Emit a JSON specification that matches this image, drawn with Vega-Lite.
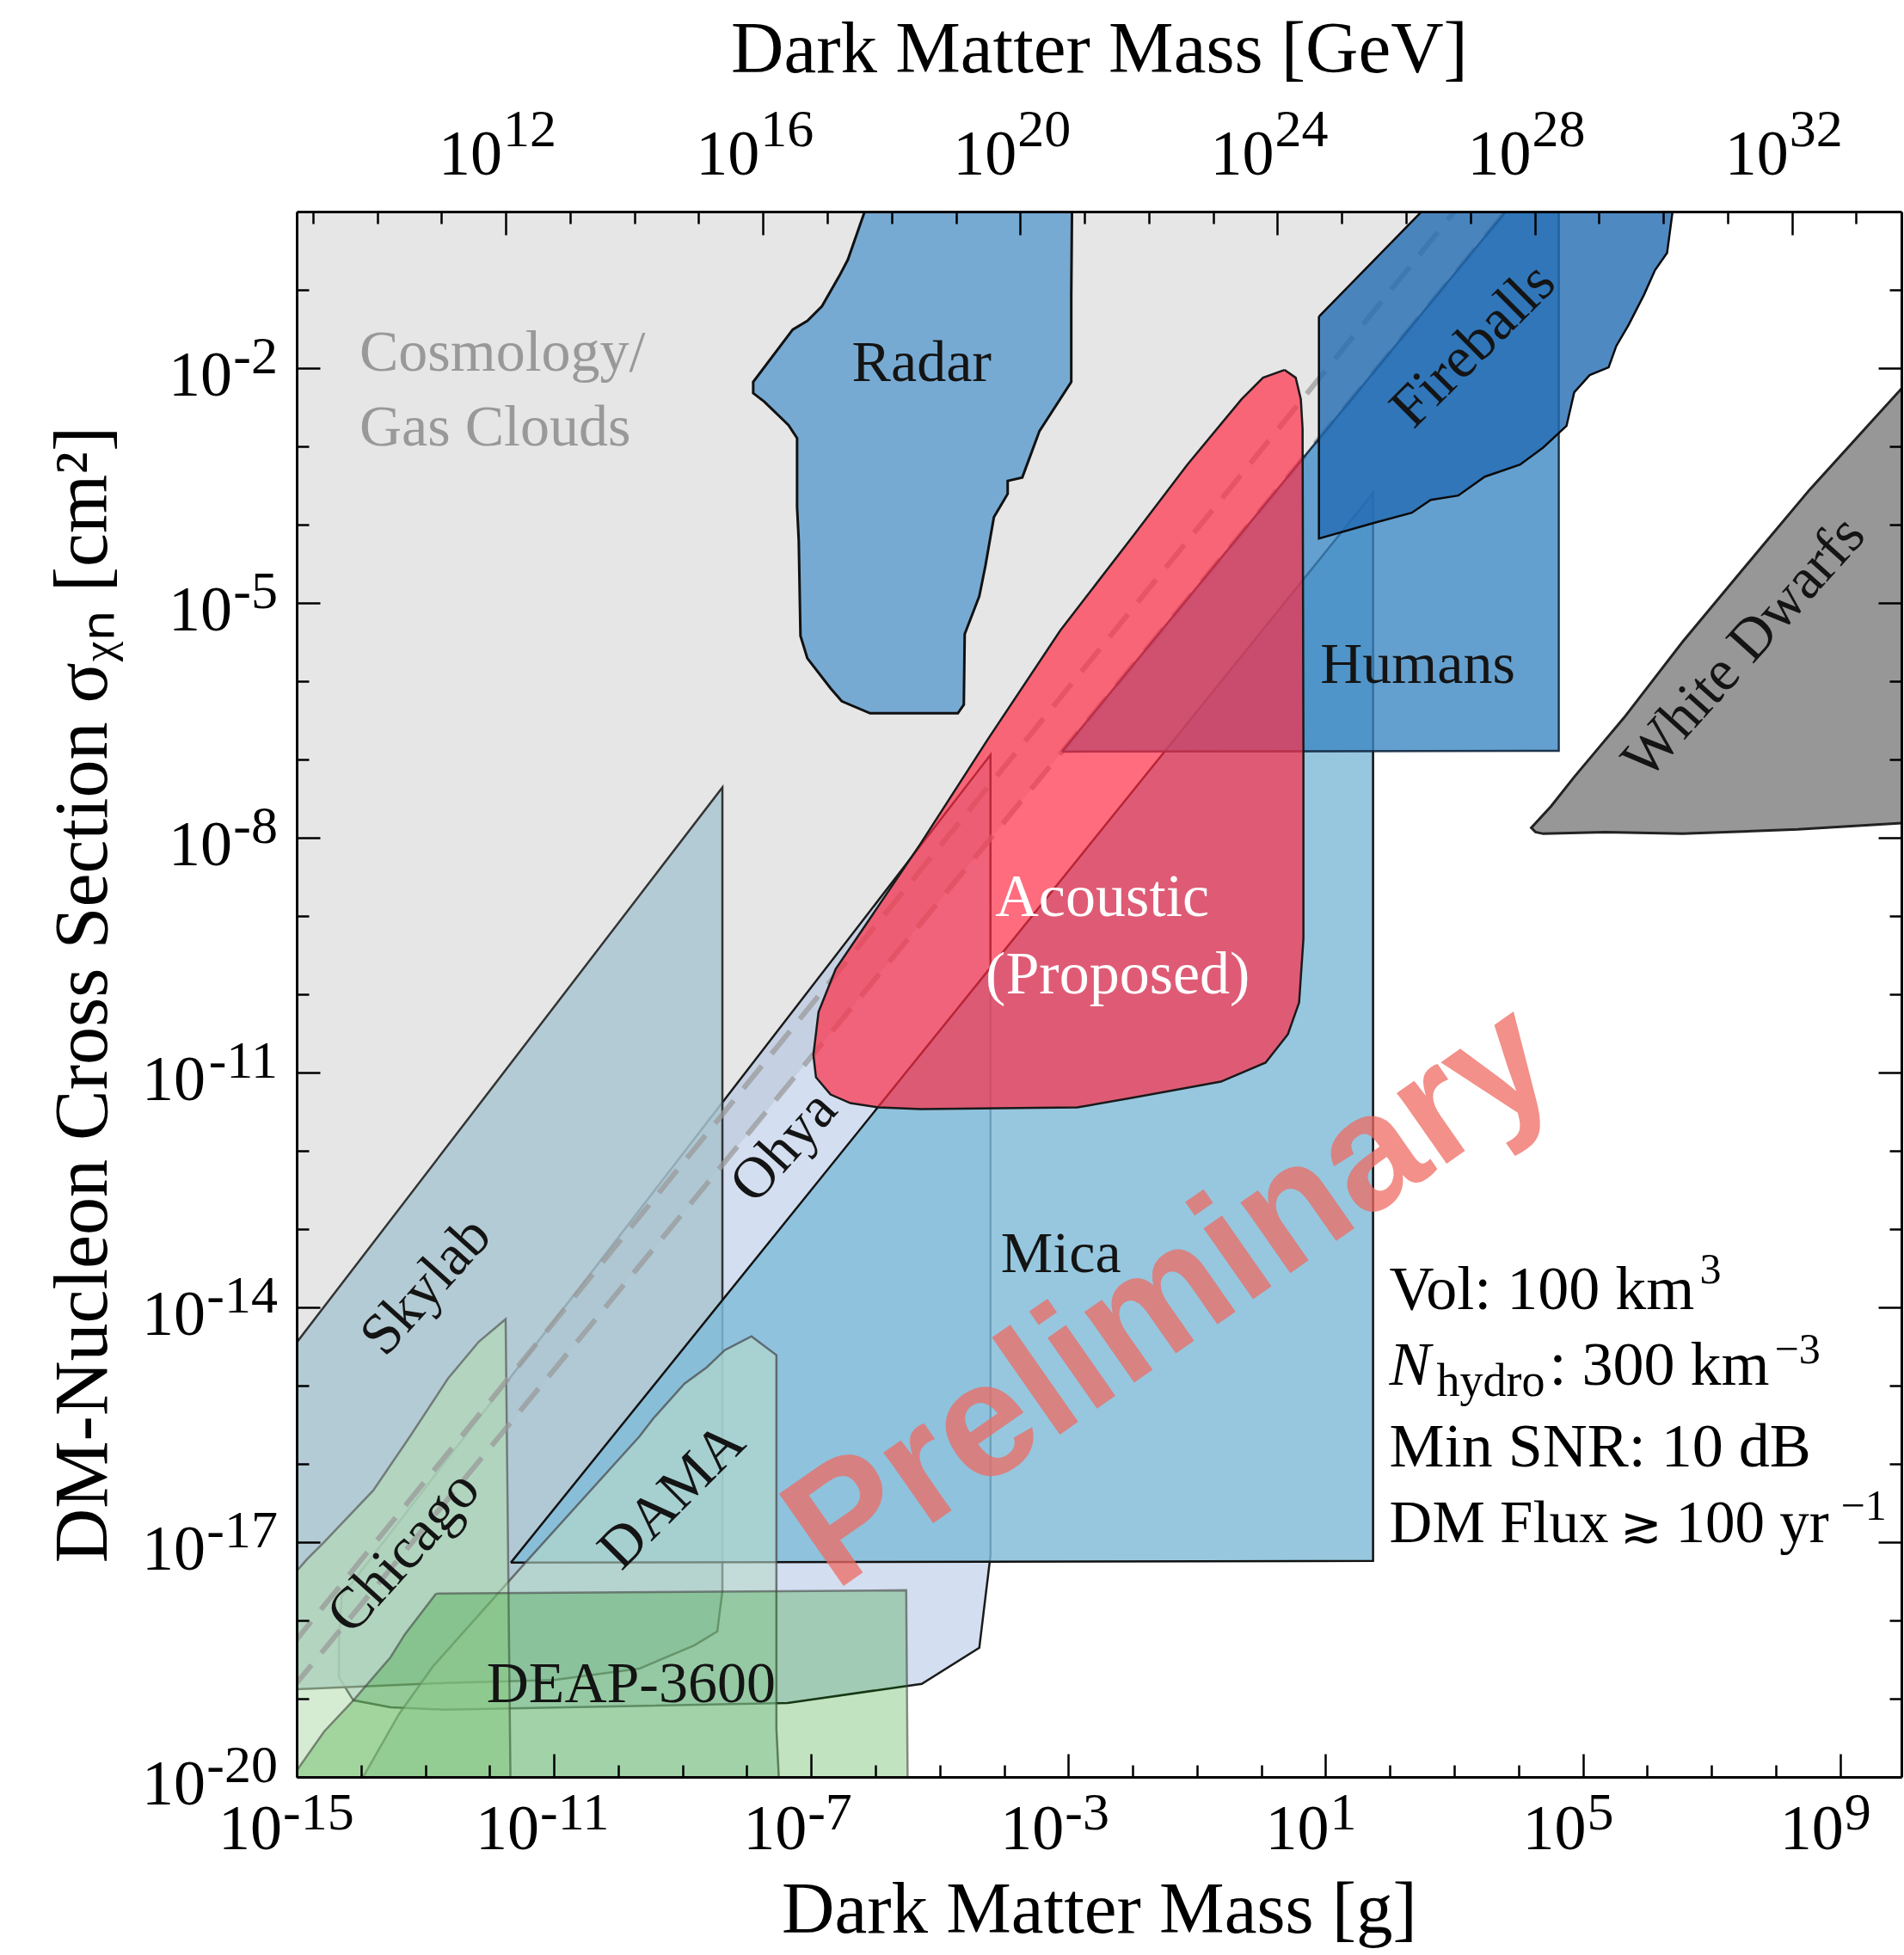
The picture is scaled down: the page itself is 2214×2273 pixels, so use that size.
{
"$schema":"https://vega.github.io/schema/vega-lite/v6.json",
"width":1866,"height":1820,
"autosize":"none",
"padding":{"left":345,"top":246,"right":3,"bottom":207},
"background":"white",
"config":{"view":{"stroke":null},
"axis":{"labelFont":"Liberation Serif","labelFontSize":72,"labelColor":"#000","titleFont":"Liberation Serif","titleFontSize":85,"titleFontWeight":"normal","titleColor":"#000","tickColor":"#000","tickWidth":2.5,"domainColor":"#000","domainWidth":3,"grid":false,"labelFlush":false,"labelOverlap":false,"labelBound":false}},
"datasets":{
"poly":[
{"r":"cosmo","i":0,"x":1e-16,"y":1.585e-20},{"r":"cosmo","i":1,"x":1.585e4,"y":2.512},{"r":"cosmo","i":2,"x":1.585e4,"y":30},{"r":"cosmo","i":3,"x":1e-16,"y":30},{"r":"cosmo","i":4,"x":1e-16,"y":1.585e-20},
{"r":"ohya","i":0,"x":5.012e-15,"y":2.042e-18},{"r":"ohya","i":1,"x":6.15e-5,"y":1.148e-7},{"r":"ohya","i":2,"x":6.15e-5,"y":6.76e-18},{"r":"ohya","i":3,"x":4.12e-5,"y":4.467e-19},{"r":"ohya","i":4,"x":5.25e-6,"y":1.549e-19},{"r":"ohya","i":5,"x":4.31e-8,"y":8.83e-20},{"r":"ohya","i":6,"x":1.995e-13,"y":7.24e-20},{"r":"ohya","i":7,"x":2.884e-14,"y":7.76e-20},{"r":"ohya","i":8,"x":7.59e-15,"y":9.55e-20},{"r":"ohya","i":9,"x":4.52e-15,"y":1.884e-19},{"r":"ohya","i":10,"x":4.52e-15,"y":5.19e-19},{"r":"ohya","i":11,"x":5.012e-15,"y":2.042e-18},
{"r":"skylab","i":0,"x":5.012e-16,"y":1.698e-15},{"r":"skylab","i":1,"x":4.169e-9,"y":4.406e-8},{"r":"skylab","i":2,"x":4.169e-9,"y":2.371e-18},{"r":"skylab","i":3,"x":3.467e-9,"y":7.244e-19},{"r":"skylab","i":4,"x":1.514e-9,"y":4.786e-19},{"r":"skylab","i":5,"x":2.138e-10,"y":2.427e-19},{"r":"skylab","i":6,"x":1e-11,"y":1.738e-19},{"r":"skylab","i":7,"x":1.995e-13,"y":1.585e-19},{"r":"skylab","i":8,"x":5.012e-16,"y":1.288e-19},{"r":"skylab","i":9,"x":5.012e-16,"y":1.698e-15},
{"r":"mica","i":0,"x":2.133e-12,"y":5.47e-18},{"r":"mica","i":1,"x":54.7,"y":2.535e-4},{"r":"mica","i":2,"x":54.7,"y":5.754e-18},{"r":"mica","i":3,"x":2.133e-12,"y":5.47e-18},
{"r":"dama","i":0,"x":3.311e-15,"y":3.162e-21},{"r":"dama","i":1,"x":1.138e-14,"y":1.079e-20},{"r":"dama","i":2,"x":3.89e-14,"y":6.35e-20},{"r":"dama","i":3,"x":1.337e-13,"y":2.63e-19},{"r":"dama","i":4,"x":3.597e-12,"y":5.47e-18},{"r":"dama","i":5,"x":2.158e-10,"y":2.26e-16},{"r":"dama","i":6,"x":3.548e-10,"y":3.846e-16},{"r":"dama","i":7,"x":1.072e-9,"y":1.059e-15},{"r":"dama","i":8,"x":2.382e-9,"y":1.714e-15},{"r":"dama","i":9,"x":4.55e-9,"y":2.844e-15},{"r":"dama","i":10,"x":1.18e-8,"y":4.256e-15},{"r":"dama","i":11,"x":2.884e-8,"y":2.455e-15},{"r":"dama","i":12,"x":2.884e-8,"y":4.13e-20},{"r":"dama","i":13,"x":3.365e-8,"y":3.162e-21},{"r":"dama","i":14,"x":3.311e-15,"y":3.162e-21},
{"r":"chicago","i":0,"x":5.012e-16,"y":3.162e-21},{"r":"chicago","i":1,"x":5.012e-16,"y":1.995e-18},{"r":"chicago","i":2,"x":1e-15,"y":4.266e-18},{"r":"chicago","i":3,"x":1.445e-15,"y":6.05e-18},{"r":"chicago","i":4,"x":2.679e-15,"y":1.005e-17},{"r":"chicago","i":5,"x":1.549e-14,"y":4.581e-17},{"r":"chicago","i":6,"x":5.821e-14,"y":2.26e-16},{"r":"chicago","i":7,"x":2.254e-13,"y":1.233e-15},{"r":"chicago","i":8,"x":6.82e-13,"y":3.656e-15},{"r":"chicago","i":9,"x":1.774e-12,"y":7.063e-15},{"r":"chicago","i":10,"x":2.14e-12,"y":3.162e-21},{"r":"chicago","i":11,"x":5.012e-16,"y":3.162e-21},
{"r":"deap","i":0,"x":1.466e-13,"y":2.198e-18},{"r":"deap","i":1,"x":3.013e-6,"y":2.432e-18},{"r":"deap","i":2,"x":3.199e-6,"y":3.162e-21},{"r":"deap","i":3,"x":3.162e-16,"y":3.162e-21},{"r":"deap","i":4,"x":9.705e-16,"y":1.164e-20},{"r":"deap","i":5,"x":2.679e-15,"y":3.828e-20},{"r":"deap","i":6,"x":7.621e-15,"y":9.528e-20},{"r":"deap","i":7,"x":2.864e-14,"y":3.373e-19},{"r":"deap","i":8,"x":4.831e-14,"y":6.683e-19},{"r":"deap","i":9,"x":1.466e-13,"y":2.198e-18},
{"r":"humans","i":0,"x":7.943e-4,"y":1.259e-7},{"r":"humans","i":1,"x":4.227e4,"y":1.288e-7},{"r":"humans","i":2,"x":4.227e4,"y":3.162},{"r":"humans","i":3,"x":1.995e4,"y":3.162},{"r":"humans","i":4,"x":7.943e-4,"y":1.259e-7},
{"r":"radar","i":0,"x":9.12e-7,"y":1.995},{"r":"radar","i":1,"x":3.715e-7,"y":0.2421},{"r":"radar","i":2,"x":2.729e-7,"y":0.1496},{"r":"radar","i":3,"x":1.472e-7,"y":0.06166},{"r":"radar","i":4,"x":8.73e-8,"y":0.04009},{"r":"radar","i":5,"x":5.176e-8,"y":0.03112},{"r":"radar","i":6,"x":1.256e-8,"y":6.653e-3},{"r":"radar","i":7,"x":1.256e-8,"y":4.786e-3},{"r":"radar","i":8,"x":1.875e-8,"y":3.715e-3},{"r":"radar","i":9,"x":4.436e-8,"y":1.875e-3},{"r":"radar","i":10,"x":6.039e-8,"y":1.276e-3},{"r":"radar","i":11,"x":6.039e-8,"y":1.687e-4},{"r":"radar","i":12,"x":6.412e-8,"y":6.31e-5},{"r":"radar","i":13,"x":6.823e-8,"y":3.793e-6},{"r":"radar","i":14,"x":8.73e-8,"y":1.963e-6},{"r":"radar","i":15,"x":2.004e-7,"y":8.11e-7},{"r":"radar","i":16,"x":2.992e-7,"y":5.546e-7},{"r":"radar","i":17,"x":8.26e-7,"y":3.89e-7},{"r":"radar","i":18,"x":1.91e-5,"y":3.89e-7},{"r":"radar","i":19,"x":2.366e-5,"y":5.012e-7},{"r":"radar","i":20,"x":2.443e-5,"y":4.0e-6},{"r":"radar","i":21,"x":4.12e-5,"y":1.219e-5},{"r":"radar","i":22,"x":5.117e-5,"y":2.951e-5},{"r":"radar","i":23,"x":6.95e-5,"y":1.25e-4},{"r":"radar","i":24,"x":1.138e-4,"y":2.477e-4},{"r":"radar","i":25,"x":1.138e-4,"y":3.622e-4},{"r":"radar","i":26,"x":1.919e-4,"y":4.009e-4},{"r":"radar","i":27,"x":3.556e-4,"y":1.574e-3},{"r":"radar","i":28,"x":1.109e-3,"y":6.653e-3},{"r":"radar","i":29,"x":1.109e-3,"y":0.08375},{"r":"radar","i":30,"x":1.146e-3,"y":1.995},{"r":"radar","i":31,"x":9.12e-7,"y":1.995},
{"r":"fire","i":0,"x":7.87,"y":0.0456},{"r":"fire","i":1,"x":707.9,"y":1.995},{"r":"fire","i":2,"x":2.78e6,"y":1.995},{"r":"fire","i":3,"x":2.042e6,"y":0.2965},{"r":"fire","i":4,"x":1.327e6,"y":0.1786},{"r":"fire","i":5,"x":8.89e5,"y":0.0857},{"r":"fire","i":6,"x":5.117e5,"y":0.03532},{"r":"fire","i":7,"x":3.319e5,"y":0.01923},{"r":"fire","i":8,"x":2.518e5,"y":0.01023},{"r":"fire","i":9,"x":1.279e5,"y":8.147e-3},{"r":"fire","i":10,"x":7.345e4,"y":4.909e-3},{"r":"fire","i":11,"x":5.572e4,"y":1.828e-3},{"r":"fire","i":12,"x":2.427e4,"y":9.705e-4},{"r":"fire","i":13,"x":1.057e4,"y":5.848e-4},{"r":"fire","i":14,"x":2992,"y":4.102e-4},{"r":"fire","i":15,"x":1153,"y":2.355e-4},{"r":"fire","i":16,"x":430.5,"y":2.075e-4},{"r":"fire","i":17,"x":218.8,"y":1.419e-4},{"r":"fire","i":18,"x":54.7,"y":1.047e-4},{"r":"fire","i":19,"x":7.87,"y":6.637e-5},{"r":"fire","i":20,"x":7.87,"y":0.0456},
{"r":"wd","i":0,"x":1.585e10,"y":9.12e-3},{"r":"wd","i":1,"x":3.381e8,"y":2.812e-4},{"r":"wd","i":2,"x":5.675e7,"y":4.898e-5},{"r":"wd","i":3,"x":3.556e6,"y":3.184e-6},{"r":"wd","i":4,"x":4.385e5,"y":3.428e-7},{"r":"wd","i":5,"x":1.91e5,"y":1.524e-7},{"r":"wd","i":6,"x":7.345e4,"y":5.97e-8},{"r":"wd","i":7,"x":3.199e4,"y":2.523e-8},{"r":"wd","i":8,"x":1.578e4,"y":1.34e-8},{"r":"wd","i":9,"x":1.841e4,"y":1.18e-8},{"r":"wd","i":10,"x":2.427e4,"y":1.125e-8},{"r":"wd","i":11,"x":2.228e5,"y":1.18e-8},{"r":"wd","i":12,"x":3.556e6,"y":1.125e-8},{"r":"wd","i":13,"x":2.198e8,"y":1.276e-8},{"r":"wd","i":14,"x":1.585e10,"y":1.585e-8},{"r":"wd","i":15,"x":1.585e10,"y":9.12e-3},
{"r":"acou","i":0,"x":2.296,"y":9.484e-3},{"r":"acou","i":1,"x":3.428,"y":7.551e-3},{"r":"acou","i":2,"x":4.121,"y":4.009e-3},{"r":"acou","i":3,"x":4.385,"y":1.694e-3},{"r":"acou","i":4,"x":4.519,"y":1.413e-7},{"r":"acou","i":5,"x":4.519,"y":5.117e-10},{"r":"acou","i":6,"x":3.873,"y":7.852e-11},{"r":"acou","i":7,"x":2.594,"y":3.083e-11},{"r":"acou","i":8,"x":1.167,"y":1.337e-11},{"r":"acou","i":9,"x":0.2355,"y":7.656e-12},{"r":"acou","i":10,"x":9.572e-3,"y":4.732e-12},{"r":"acou","i":11,"x":1.377e-3,"y":3.581e-12},{"r":"acou","i":12,"x":5.082e-6,"y":3.404e-12},{"r":"acou","i":13,"x":1.125e-6,"y":3.581e-12},{"r":"acou","i":14,"x":4.074e-7,"y":4.064e-12},{"r":"acou","i":15,"x":2.004e-7,"y":5.236e-12},{"r":"acou","i":16,"x":1.189e-7,"y":8.69e-12},{"r":"acou","i":17,"x":1.084e-7,"y":1.679e-11},{"r":"acou","i":18,"x":1.303e-7,"y":5.957e-11},{"r":"acou","i":19,"x":2.41e-7,"y":2.109e-10},{"r":"acou","i":20,"x":6.871e-7,"y":7.482e-10},{"r":"acou","i":21,"x":5.082e-6,"y":8.511e-9},{"r":"acou","i":22,"x":5.61e-5,"y":1.82e-7},{"r":"acou","i":23,"x":7.447e-4,"y":4.416e-6},{"r":"acou","i":24,"x":9.886e-3,"y":6.982e-5},{"r":"acou","i":25,"x":0.07079,"y":5.848e-4},{"r":"acou","i":26,"x":0.4932,"y":4.009e-3},{"r":"acou","i":27,"x":1.064,"y":7.551e-3},{"r":"acou","i":28,"x":2.296,"y":9.484e-3}
],
"lines":[
{"r":"A","i":0,"x":3.162e-16,"y":1.778e-19},{"r":"A","i":1,"x":1995,"y":1.995},
{"r":"B","i":0,"x":3.162e-16,"y":5.012e-20},{"r":"B","i":1,"x":1.585e4,"y":2.512}
],
"labels":[
{"t":"Cosmology/","x":9.46e-15,"y":9.25e-3},
{"t":"Gas Clouds","x":9.46e-15,"y":1.02e-3},
{"t":"Radar","x":5.24e-6,"y":6.82e-3},
{"t":"Humans","x":271,"y":9.44e-7},
{"t":"Mica","x":7.67e-4,"y":2.84e-14},
{"t":"DEAP-3600","x":1.585e-10,"y":9.06e-20},
{"t":"Acoustic","x":3.365e-3,"y":9.89e-10},
{"t":"(Proposed)","x":5.85e-3,"y":1.014e-10},
{"t":"Skylab","x":1.045e-13,"y":1.849e-14},
{"t":"Chicago","x":4.69e-14,"y":7.41e-18},
{"t":"DAMA","x":6.95e-10,"y":3.84e-17},
{"t":"Ohya","x":3.8e-8,"y":1.117e-12},
{"t":"Fireballs","x":2004,"y":0.01928},
{"t":"White Dwarfs","x":3.258e7,"y":2.667e-6},
{"t":"Vol: 100 km","x":98.2,"y":9.57e-15},
{"t":"3","x":6.58e6,"y":2.047e-14},
{"t":"N","x":98.2,"y":1.019e-15},
{"t":"hydro","x":533,"y":7.43e-16},
{"t":": 300 km","x":3.013e4,"y":1.019e-15},
{"t":"−3","x":9.57e7,"y":1.945e-15},
{"t":"Min SNR: 10 dB","x":98.2,"y":9.31e-17},
{"t":"DM Flux","x":98.2,"y":1.005e-17},
{"t":"≳","x":3.758e5,"y":1.005e-17},
{"t":"100 yr","x":2.78e6,"y":1.005e-17},
{"t":"−1","x":1.026e9,"y":1.941e-17},
{"t":"Preliminary","x":0.03945,"y":1.365e-14}
],
"xlab":[{"x":1e-15,"y":1e-20,"e":"-15"},{"x":1e-11,"y":1e-20,"e":"-11"},{"x":1e-7,"y":1e-20,"e":"-7"},{"x":1e-3,"y":1e-20,"e":"-3"},{"x":10,"y":1e-20,"e":"1"},{"x":1e5,"y":1e-20,"e":"5"},{"x":1e9,"y":1e-20,"e":"9"}],
"ylab":[{"x":1e-15,"y":1e-20,"e":"-20"},{"x":1e-15,"y":1e-17,"e":"-17"},{"x":1e-15,"y":1e-14,"e":"-14"},{"x":1e-15,"y":1e-11,"e":"-11"},{"x":1e-15,"y":1e-8,"e":"-8"},{"x":1e-15,"y":1e-5,"e":"-5"},{"x":1e-15,"y":1e-2,"e":"-2"}],
"glab":[{"x":1.78266e-12,"y":1,"e":"12"},{"x":1.78266e-8,"y":1,"e":"16"},{"x":1.78266e-4,"y":1,"e":"20"},{"x":1.78266,"y":1,"e":"24"},{"x":1.78266e4,"y":1,"e":"28"},{"x":1.78266e8,"y":1,"e":"32"}]
},
"layer":[
{"data":{"name":"poly"},"transform":[{"filter":"datum.r=='cosmo'"}],
"mark":{"type":"line","fill":"#e6e6e6","fillOpacity":1,"strokeWidth":0,"clip":true},
"encoding":{
"x":{"field":"x","type":"quantitative","scale":{"type":"log","domain":[1e-15,9e9],"nice":false},
"axis":{"orient":"bottom","zindex":1,"values":[1e-15,1e-14,1e-13,1e-12,1e-11,1e-10,1e-9,1e-8,1e-7,1e-6,1e-5,1e-4,1e-3,1e-2,1e-1,1,10,100,1000,1e4,1e5,1e6,1e7,1e8,1e9],
"tickSize":{"condition":{"test":"(round(log(datum.value)/LN10)+15)%4==0","value":-27},"value":-14},
"labels":false,
"title":"Dark Matter Mass [g]","titleX":933,"titleY":180,"titleBaseline":"alphabetic","titleAlign":"center","titleAnchor":null}},
"y":{"field":"y","type":"quantitative","scale":{"type":"log","domain":[1e-20,1],"nice":false},
"axis":{"orient":"left","zindex":1,"values":[1e-20,1e-19,1e-18,1e-17,1e-16,1e-15,1e-14,1e-13,1e-12,1e-11,1e-10,1e-9,1e-8,1e-7,1e-6,1e-5,1e-4,1e-3,1e-2,1e-1],
"tickSize":{"condition":{"test":"(round(log(datum.value)/LN10)+20)%3==0","value":-27},"value":-14},
"labels":false,
"title":"DM-Nucleon Cross Section σᵪₙ [cm²]","titleFontSize":88,"titleX":-222,"titleY":910,"titleAngle":270,"titleBaseline":"alphabetic","titleAlign":"center","titleAnchor":null}},
"order":{"field":"i","type":"quantitative"}}},
{"data":{"values":[{"x":1,"y":1e-10}]},
"mark":{"type":"point","opacity":0},
"encoding":{
"x":{"field":"x","type":"quantitative","scale":{"type":"log","domain":[1e-15,9e9],"nice":false},
"axis":{"orient":"top","zindex":1,"values":[1.78266e-15,1.78266e-14,1.78266e-13,1.78266e-12,1.78266e-11,1.78266e-10,1.78266e-9,1.78266e-8,1.78266e-7,1.78266e-6,1.78266e-5,1.78266e-4,1.78266e-3,0.0178266,0.178266,1.78266,17.8266,178.266,1782.66,17826.6,178266,1782660,17826600,178266000,1782660000],
"tickSize":{"condition":{"test":"round(log(datum.value/1.78266e-24)/LN10)%4==0","value":-27},"value":-14},
"labels":false,
"title":"Dark Matter Mass [GeV]","titleX":933,"titleY":-163,"titleBaseline":"alphabetic","titleAlign":"center","titleAnchor":null}},
"y":{"field":"y","type":"quantitative","scale":{"type":"log","domain":[1e-20,1],"nice":false},
"axis":{"orient":"right","zindex":1,"values":[1e-20,1e-19,1e-18,1e-17,1e-16,1e-15,1e-14,1e-13,1e-12,1e-11,1e-10,1e-9,1e-8,1e-7,1e-6,1e-5,1e-4,1e-3,1e-2,1e-1],
"tickSize":{"condition":{"test":"(round(log(datum.value)/LN10)+20)%3==0","value":-27},"value":-14},
"labels":false,"title":null}}}},
{"data":{"name":"poly"},"transform":[{"filter":"datum.r=='ohya'"}],
"mark":{"type":"line","fill":"#9eb8de","fillOpacity":0.45,"stroke":"#1a1a1a","strokeWidth":2.5,"clip":true},
"encoding":{"x":{"field":"x","type":"quantitative","scale":{"type":"log","domain":[1e-15,9e9],"nice":false},"axis":null},"y":{"field":"y","type":"quantitative","scale":{"type":"log","domain":[1e-20,1],"nice":false},"axis":null},"order":{"field":"i","type":"quantitative"}}},
{"data":{"name":"poly"},"transform":[{"filter":"datum.r=='skylab'"}],
"mark":{"type":"line","fill":"#a9c5d0","fillOpacity":0.85,"stroke":"#333333","strokeWidth":2.5,"clip":true},
"encoding":{"x":{"field":"x","type":"quantitative","scale":{"type":"log","domain":[1e-15,9e9],"nice":false},"axis":null},"y":{"field":"y","type":"quantitative","scale":{"type":"log","domain":[1e-20,1],"nice":false},"axis":null},"order":{"field":"i","type":"quantitative"}}},
{"data":{"name":"poly"},"transform":[{"filter":"datum.r=='mica'"}],
"mark":{"type":"line","fill":"#81bcd8","fillOpacity":0.83,"stroke":"#111111","strokeWidth":2.5,"clip":true},
"encoding":{"x":{"field":"x","type":"quantitative","scale":{"type":"log","domain":[1e-15,9e9],"nice":false},"axis":null},"y":{"field":"y","type":"quantitative","scale":{"type":"log","domain":[1e-20,1],"nice":false},"axis":null},"order":{"field":"i","type":"quantitative"}}},
{"data":{"name":"poly"},"transform":[{"filter":"datum.r=='dama'"}],
"mark":{"type":"line","fill":"#b9dacb","fillOpacity":0.6,"stroke":"#444444","strokeOpacity":0.7,"strokeWidth":2.5,"clip":true},
"encoding":{"x":{"field":"x","type":"quantitative","scale":{"type":"log","domain":[1e-15,9e9],"nice":false},"axis":null},"y":{"field":"y","type":"quantitative","scale":{"type":"log","domain":[1e-20,1],"nice":false},"axis":null},"order":{"field":"i","type":"quantitative"}}},
{"data":{"name":"poly"},"transform":[{"filter":"datum.r=='chicago'"}],
"mark":{"type":"line","fill":"#b2dcad","fillOpacity":0.55,"stroke":"#444444","strokeOpacity":0.6,"strokeWidth":2.5,"clip":true},
"encoding":{"x":{"field":"x","type":"quantitative","scale":{"type":"log","domain":[1e-15,9e9],"nice":false},"axis":null},"y":{"field":"y","type":"quantitative","scale":{"type":"log","domain":[1e-20,1],"nice":false},"axis":null},"order":{"field":"i","type":"quantitative"}}},
{"data":{"name":"poly"},"transform":[{"filter":"datum.r=='deap'"}],
"mark":{"type":"line","fill":"#0c9000","fillOpacity":0.25,"stroke":"#444444","strokeOpacity":0.6,"strokeWidth":2.5,"clip":true},
"encoding":{"x":{"field":"x","type":"quantitative","scale":{"type":"log","domain":[1e-15,9e9],"nice":false},"axis":null},"y":{"field":"y","type":"quantitative","scale":{"type":"log","domain":[1e-20,1],"nice":false},"axis":null},"order":{"field":"i","type":"quantitative"}}},
{"data":{"name":"lines"},
"mark":{"type":"line","stroke":"#999999","strokeOpacity":0.75,"strokeWidth":6,"strokeDash":[34,18],"clip":true},
"encoding":{"x":{"field":"x","type":"quantitative","scale":{"type":"log","domain":[1e-15,9e9],"nice":false},"axis":null},"y":{"field":"y","type":"quantitative","scale":{"type":"log","domain":[1e-20,1],"nice":false},"axis":null},"detail":{"field":"r"},"order":{"field":"i","type":"quantitative"}}},
{"data":{"name":"poly"},"transform":[{"filter":"datum.r=='humans'"}],
"mark":{"type":"line","fill":"#3d88c3","fillOpacity":0.8,"stroke":"#10263d","strokeOpacity":0.9,"strokeWidth":2.5,"clip":true},
"encoding":{"x":{"field":"x","type":"quantitative","scale":{"type":"log","domain":[1e-15,9e9],"nice":false},"axis":null},"y":{"field":"y","type":"quantitative","scale":{"type":"log","domain":[1e-20,1],"nice":false},"axis":null},"order":{"field":"i","type":"quantitative"}}},
{"data":{"name":"poly"},"transform":[{"filter":"datum.r=='radar'"}],
"mark":{"type":"line","fill":"#76aad3","fillOpacity":1,"stroke":"#111111","strokeWidth":3,"clip":true},
"encoding":{"x":{"field":"x","type":"quantitative","scale":{"type":"log","domain":[1e-15,9e9],"nice":false},"axis":null},"y":{"field":"y","type":"quantitative","scale":{"type":"log","domain":[1e-20,1],"nice":false},"axis":null},"order":{"field":"i","type":"quantitative"}}},
{"data":{"name":"poly"},"transform":[{"filter":"datum.r=='fire'"}],
"mark":{"type":"line","fill":"#236bb3","fillOpacity":0.8,"stroke":"#0a0a0a","strokeWidth":2.5,"clip":true},
"encoding":{"x":{"field":"x","type":"quantitative","scale":{"type":"log","domain":[1e-15,9e9],"nice":false},"axis":null},"y":{"field":"y","type":"quantitative","scale":{"type":"log","domain":[1e-20,1],"nice":false},"axis":null},"order":{"field":"i","type":"quantitative"}}},
{"data":{"name":"poly"},"transform":[{"filter":"datum.r=='wd'"}],
"mark":{"type":"line","fill":"#979797","fillOpacity":1,"stroke":"#222222","strokeWidth":3,"clip":true},
"encoding":{"x":{"field":"x","type":"quantitative","scale":{"type":"log","domain":[1e-15,9e9],"nice":false},"axis":null},"y":{"field":"y","type":"quantitative","scale":{"type":"log","domain":[1e-20,1],"nice":false},"axis":null},"order":{"field":"i","type":"quantitative"}}},
{"data":{"name":"poly"},"transform":[{"filter":"datum.r=='acou'"}],
"mark":{"type":"line","fill":"#fd2e47","fillOpacity":0.7,"stroke":"#1a1a1a","strokeWidth":2.5,"clip":true},
"encoding":{"x":{"field":"x","type":"quantitative","scale":{"type":"log","domain":[1e-15,9e9],"nice":false},"axis":null},"y":{"field":"y","type":"quantitative","scale":{"type":"log","domain":[1e-20,1],"nice":false},"axis":null},"order":{"field":"i","type":"quantitative"}}},
{"data":{"name":"labels"},"transform":[{"filter":"indexof(['Cosmology/','Gas Clouds'], datum.t) >= 0"}],
"mark":{"type":"text","font":"Liberation Serif","fontSize":68,"color":"#999999","align":"left","baseline":"alphabetic"},
"encoding":{"x":{"field":"x","type":"quantitative","scale":{"type":"log","domain":[1e-15,9e9],"nice":false},"axis":null},"y":{"field":"y","type":"quantitative","scale":{"type":"log","domain":[1e-20,1],"nice":false},"axis":null},"text":{"field":"t"}}},
{"data":{"name":"labels"},"transform":[{"filter":"indexof(['Radar','Humans','Mica','DEAP-3600'], datum.t) >= 0"}],
"mark":{"type":"text","font":"Liberation Serif","fontSize":68,"color":"#141414","align":"center","baseline":"alphabetic"},
"encoding":{"x":{"field":"x","type":"quantitative","scale":{"type":"log","domain":[1e-15,9e9],"nice":false},"axis":null},"y":{"field":"y","type":"quantitative","scale":{"type":"log","domain":[1e-20,1],"nice":false},"axis":null},"text":{"field":"t"}}},
{"data":{"name":"labels"},"transform":[{"filter":"indexof(['Acoustic','(Proposed)'], datum.t) >= 0"}],
"mark":{"type":"text","font":"Liberation Serif","fontSize":70,"color":"#ffffff","align":"center","baseline":"alphabetic"},
"encoding":{"x":{"field":"x","type":"quantitative","scale":{"type":"log","domain":[1e-15,9e9],"nice":false},"axis":null},"y":{"field":"y","type":"quantitative","scale":{"type":"log","domain":[1e-20,1],"nice":false},"axis":null},"text":{"field":"t"}}},
{"data":{"name":"labels"},"transform":[{"filter":"indexof(['Skylab','Chicago','White Dwarfs','Ohya'], datum.t) >= 0"}],
"mark":{"type":"text","font":"Liberation Serif","fontSize":68,"color":"#141414","align":"center","baseline":"middle","angle":-48},
"encoding":{"x":{"field":"x","type":"quantitative","scale":{"type":"log","domain":[1e-15,9e9],"nice":false},"axis":null},"y":{"field":"y","type":"quantitative","scale":{"type":"log","domain":[1e-20,1],"nice":false},"axis":null},"text":{"field":"t"}}},
{"data":{"name":"labels"},"transform":[{"filter":"indexof(['DAMA','Fireballs'], datum.t) >= 0"}],
"mark":{"type":"text","font":"Liberation Serif","fontSize":68,"color":"#141414","align":"center","baseline":"middle","angle":-45},
"encoding":{"x":{"field":"x","type":"quantitative","scale":{"type":"log","domain":[1e-15,9e9],"nice":false},"axis":null},"y":{"field":"y","type":"quantitative","scale":{"type":"log","domain":[1e-20,1],"nice":false},"axis":null},"text":{"field":"t"}}},
{"data":{"name":"labels"},"transform":[{"filter":"indexof(['Vol: 100 km',': 300 km','Min SNR: 10 dB'], datum.t) >= 0"}],
"mark":{"type":"text","font":"Liberation Serif","fontSize":72,"color":"#000000","align":"left","baseline":"alphabetic"},
"encoding":{"x":{"field":"x","type":"quantitative","scale":{"type":"log","domain":[1e-15,9e9],"nice":false},"axis":null},"y":{"field":"y","type":"quantitative","scale":{"type":"log","domain":[1e-20,1],"nice":false},"axis":null},"text":{"field":"t"}}},
{"data":{"name":"labels"},"transform":[{"filter":"indexof(['DM Flux','100 yr'], datum.t) >= 0"}],
"mark":{"type":"text","font":"Liberation Serif","fontSize":69,"color":"#000000","align":"left","baseline":"alphabetic"},
"encoding":{"x":{"field":"x","type":"quantitative","scale":{"type":"log","domain":[1e-15,9e9],"nice":false},"axis":null},"y":{"field":"y","type":"quantitative","scale":{"type":"log","domain":[1e-20,1],"nice":false},"axis":null},"text":{"field":"t"}}},
{"data":{"name":"labels"},"transform":[{"filter":"datum.t=='≳'"}],
"mark":{"type":"text","font":"DejaVu Serif","fontSize":58,"color":"#000000","align":"left","baseline":"alphabetic"},
"encoding":{"x":{"field":"x","type":"quantitative","scale":{"type":"log","domain":[1e-15,9e9],"nice":false},"axis":null},"y":{"field":"y","type":"quantitative","scale":{"type":"log","domain":[1e-20,1],"nice":false},"axis":null},"text":{"field":"t"}}},
{"data":{"name":"labels"},"transform":[{"filter":"indexof(['3','−3','−1'], datum.t) >= 0"}],
"mark":{"type":"text","font":"Liberation Serif","fontSize":50,"color":"#000000","align":"left","baseline":"alphabetic"},
"encoding":{"x":{"field":"x","type":"quantitative","scale":{"type":"log","domain":[1e-15,9e9],"nice":false},"axis":null},"y":{"field":"y","type":"quantitative","scale":{"type":"log","domain":[1e-20,1],"nice":false},"axis":null},"text":{"field":"t"}}},
{"data":{"name":"labels"},"transform":[{"filter":"datum.t=='N'"}],
"mark":{"type":"text","font":"Liberation Serif","fontSize":72,"fontStyle":"italic","color":"#000000","align":"left","baseline":"alphabetic"},
"encoding":{"x":{"field":"x","type":"quantitative","scale":{"type":"log","domain":[1e-15,9e9],"nice":false},"axis":null},"y":{"field":"y","type":"quantitative","scale":{"type":"log","domain":[1e-20,1],"nice":false},"axis":null},"text":{"field":"t"}}},
{"data":{"name":"labels"},"transform":[{"filter":"datum.t=='hydro'"}],
"mark":{"type":"text","font":"Liberation Serif","fontSize":54,"color":"#000000","align":"left","baseline":"alphabetic"},
"encoding":{"x":{"field":"x","type":"quantitative","scale":{"type":"log","domain":[1e-15,9e9],"nice":false},"axis":null},"y":{"field":"y","type":"quantitative","scale":{"type":"log","domain":[1e-20,1],"nice":false},"axis":null},"text":{"field":"t"}}},
{"data":{"name":"xlab"},"transform":[{"filter":"length(datum.e)==3"}],
"mark":{"type":"text","text":"10","font":"Liberation Serif","fontSize":74,"color":"#000","align":"right","baseline":"alphabetic","dx":-17,"dy":84},
"encoding":{"x":{"field":"x","type":"quantitative","scale":{"type":"log","domain":[1e-15,9e9],"nice":false},"axis":null},"y":{"field":"y","type":"quantitative","scale":{"type":"log","domain":[1e-20,1],"nice":false},"axis":null}}},
{"data":{"name":"xlab"},"transform":[{"filter":"length(datum.e)==3"}],
"mark":{"type":"text","font":"Liberation Serif","fontSize":62,"color":"#000","align":"left","baseline":"alphabetic","dx":-16,"dy":61},
"encoding":{"x":{"field":"x","type":"quantitative","scale":{"type":"log","domain":[1e-15,9e9],"nice":false},"axis":null},"y":{"field":"y","type":"quantitative","scale":{"type":"log","domain":[1e-20,1],"nice":false},"axis":null},"text":{"field":"e"}}},
{"data":{"name":"xlab"},"transform":[{"filter":"length(datum.e)==2"}],
"mark":{"type":"text","text":"10","font":"Liberation Serif","fontSize":74,"color":"#000","align":"right","baseline":"alphabetic","dx":-5,"dy":84},
"encoding":{"x":{"field":"x","type":"quantitative","scale":{"type":"log","domain":[1e-15,9e9],"nice":false},"axis":null},"y":{"field":"y","type":"quantitative","scale":{"type":"log","domain":[1e-20,1],"nice":false},"axis":null}}},
{"data":{"name":"xlab"},"transform":[{"filter":"length(datum.e)==2"}],
"mark":{"type":"text","font":"Liberation Serif","fontSize":62,"color":"#000","align":"left","baseline":"alphabetic","dx":-4,"dy":61},
"encoding":{"x":{"field":"x","type":"quantitative","scale":{"type":"log","domain":[1e-15,9e9],"nice":false},"axis":null},"y":{"field":"y","type":"quantitative","scale":{"type":"log","domain":[1e-20,1],"nice":false},"axis":null},"text":{"field":"e"}}},
{"data":{"name":"xlab"},"transform":[{"filter":"length(datum.e)==1"}],
"mark":{"type":"text","text":"10","font":"Liberation Serif","fontSize":74,"color":"#000","align":"right","baseline":"alphabetic","dx":4,"dy":84},
"encoding":{"x":{"field":"x","type":"quantitative","scale":{"type":"log","domain":[1e-15,9e9],"nice":false},"axis":null},"y":{"field":"y","type":"quantitative","scale":{"type":"log","domain":[1e-20,1],"nice":false},"axis":null}}},
{"data":{"name":"xlab"},"transform":[{"filter":"length(datum.e)==1"}],
"mark":{"type":"text","font":"Liberation Serif","fontSize":62,"color":"#000","align":"left","baseline":"alphabetic","dx":5,"dy":61},
"encoding":{"x":{"field":"x","type":"quantitative","scale":{"type":"log","domain":[1e-15,9e9],"nice":false},"axis":null},"y":{"field":"y","type":"quantitative","scale":{"type":"log","domain":[1e-20,1],"nice":false},"axis":null},"text":{"field":"e"}}},
{"data":{"name":"ylab"},"transform":[{"filter":"length(datum.e)==3"}],
"mark":{"type":"text","text":"10","font":"Liberation Serif","fontSize":74,"color":"#000","align":"right","baseline":"alphabetic","dx":-106,"dy":32},
"encoding":{"x":{"field":"x","type":"quantitative","scale":{"type":"log","domain":[1e-15,9e9],"nice":false},"axis":null},"y":{"field":"y","type":"quantitative","scale":{"type":"log","domain":[1e-20,1],"nice":false},"axis":null}}},
{"data":{"name":"ylab"},"transform":[{"filter":"length(datum.e)==2"}],
"mark":{"type":"text","text":"10","font":"Liberation Serif","fontSize":74,"color":"#000","align":"right","baseline":"alphabetic","dx":-75,"dy":32},
"encoding":{"x":{"field":"x","type":"quantitative","scale":{"type":"log","domain":[1e-15,9e9],"nice":false},"axis":null},"y":{"field":"y","type":"quantitative","scale":{"type":"log","domain":[1e-20,1],"nice":false},"axis":null}}},
{"data":{"name":"ylab"},
"mark":{"type":"text","font":"Liberation Serif","fontSize":62,"color":"#000","align":"right","baseline":"alphabetic","dx":-22,"dy":6},
"encoding":{"x":{"field":"x","type":"quantitative","scale":{"type":"log","domain":[1e-15,9e9],"nice":false},"axis":null},"y":{"field":"y","type":"quantitative","scale":{"type":"log","domain":[1e-20,1],"nice":false},"axis":null},"text":{"field":"e"}}},
{"data":{"name":"glab"},
"mark":{"type":"text","text":"10","font":"Liberation Serif","fontSize":74,"color":"#000","align":"right","baseline":"alphabetic","dx":-4,"dy":-43},
"encoding":{"x":{"field":"x","type":"quantitative","scale":{"type":"log","domain":[1e-15,9e9],"nice":false},"axis":null},"y":{"field":"y","type":"quantitative","scale":{"type":"log","domain":[1e-20,1],"nice":false},"axis":null}}},
{"data":{"name":"glab"},
"mark":{"type":"text","font":"Liberation Serif","fontSize":62,"color":"#000","align":"left","baseline":"alphabetic","dx":-3,"dy":-76},
"encoding":{"x":{"field":"x","type":"quantitative","scale":{"type":"log","domain":[1e-15,9e9],"nice":false},"axis":null},"y":{"field":"y","type":"quantitative","scale":{"type":"log","domain":[1e-20,1],"nice":false},"axis":null},"text":{"field":"e"}}},
{"data":{"name":"labels"},"transform":[{"filter":"datum.t=='Preliminary'"}],
"mark":{"type":"text","font":"Liberation Sans","fontWeight":"bold","fontSize":190,"color":"#ef6b63","opacity":0.75,"align":"center","baseline":"middle","angle":-35},
"encoding":{"x":{"field":"x","type":"quantitative","scale":{"type":"log","domain":[1e-15,9e9],"nice":false},"axis":null},"y":{"field":"y","type":"quantitative","scale":{"type":"log","domain":[1e-20,1],"nice":false},"axis":null},"text":{"field":"t"}}}
],
"resolve":{"axis":{"x":"independent","y":"independent"}}
}
